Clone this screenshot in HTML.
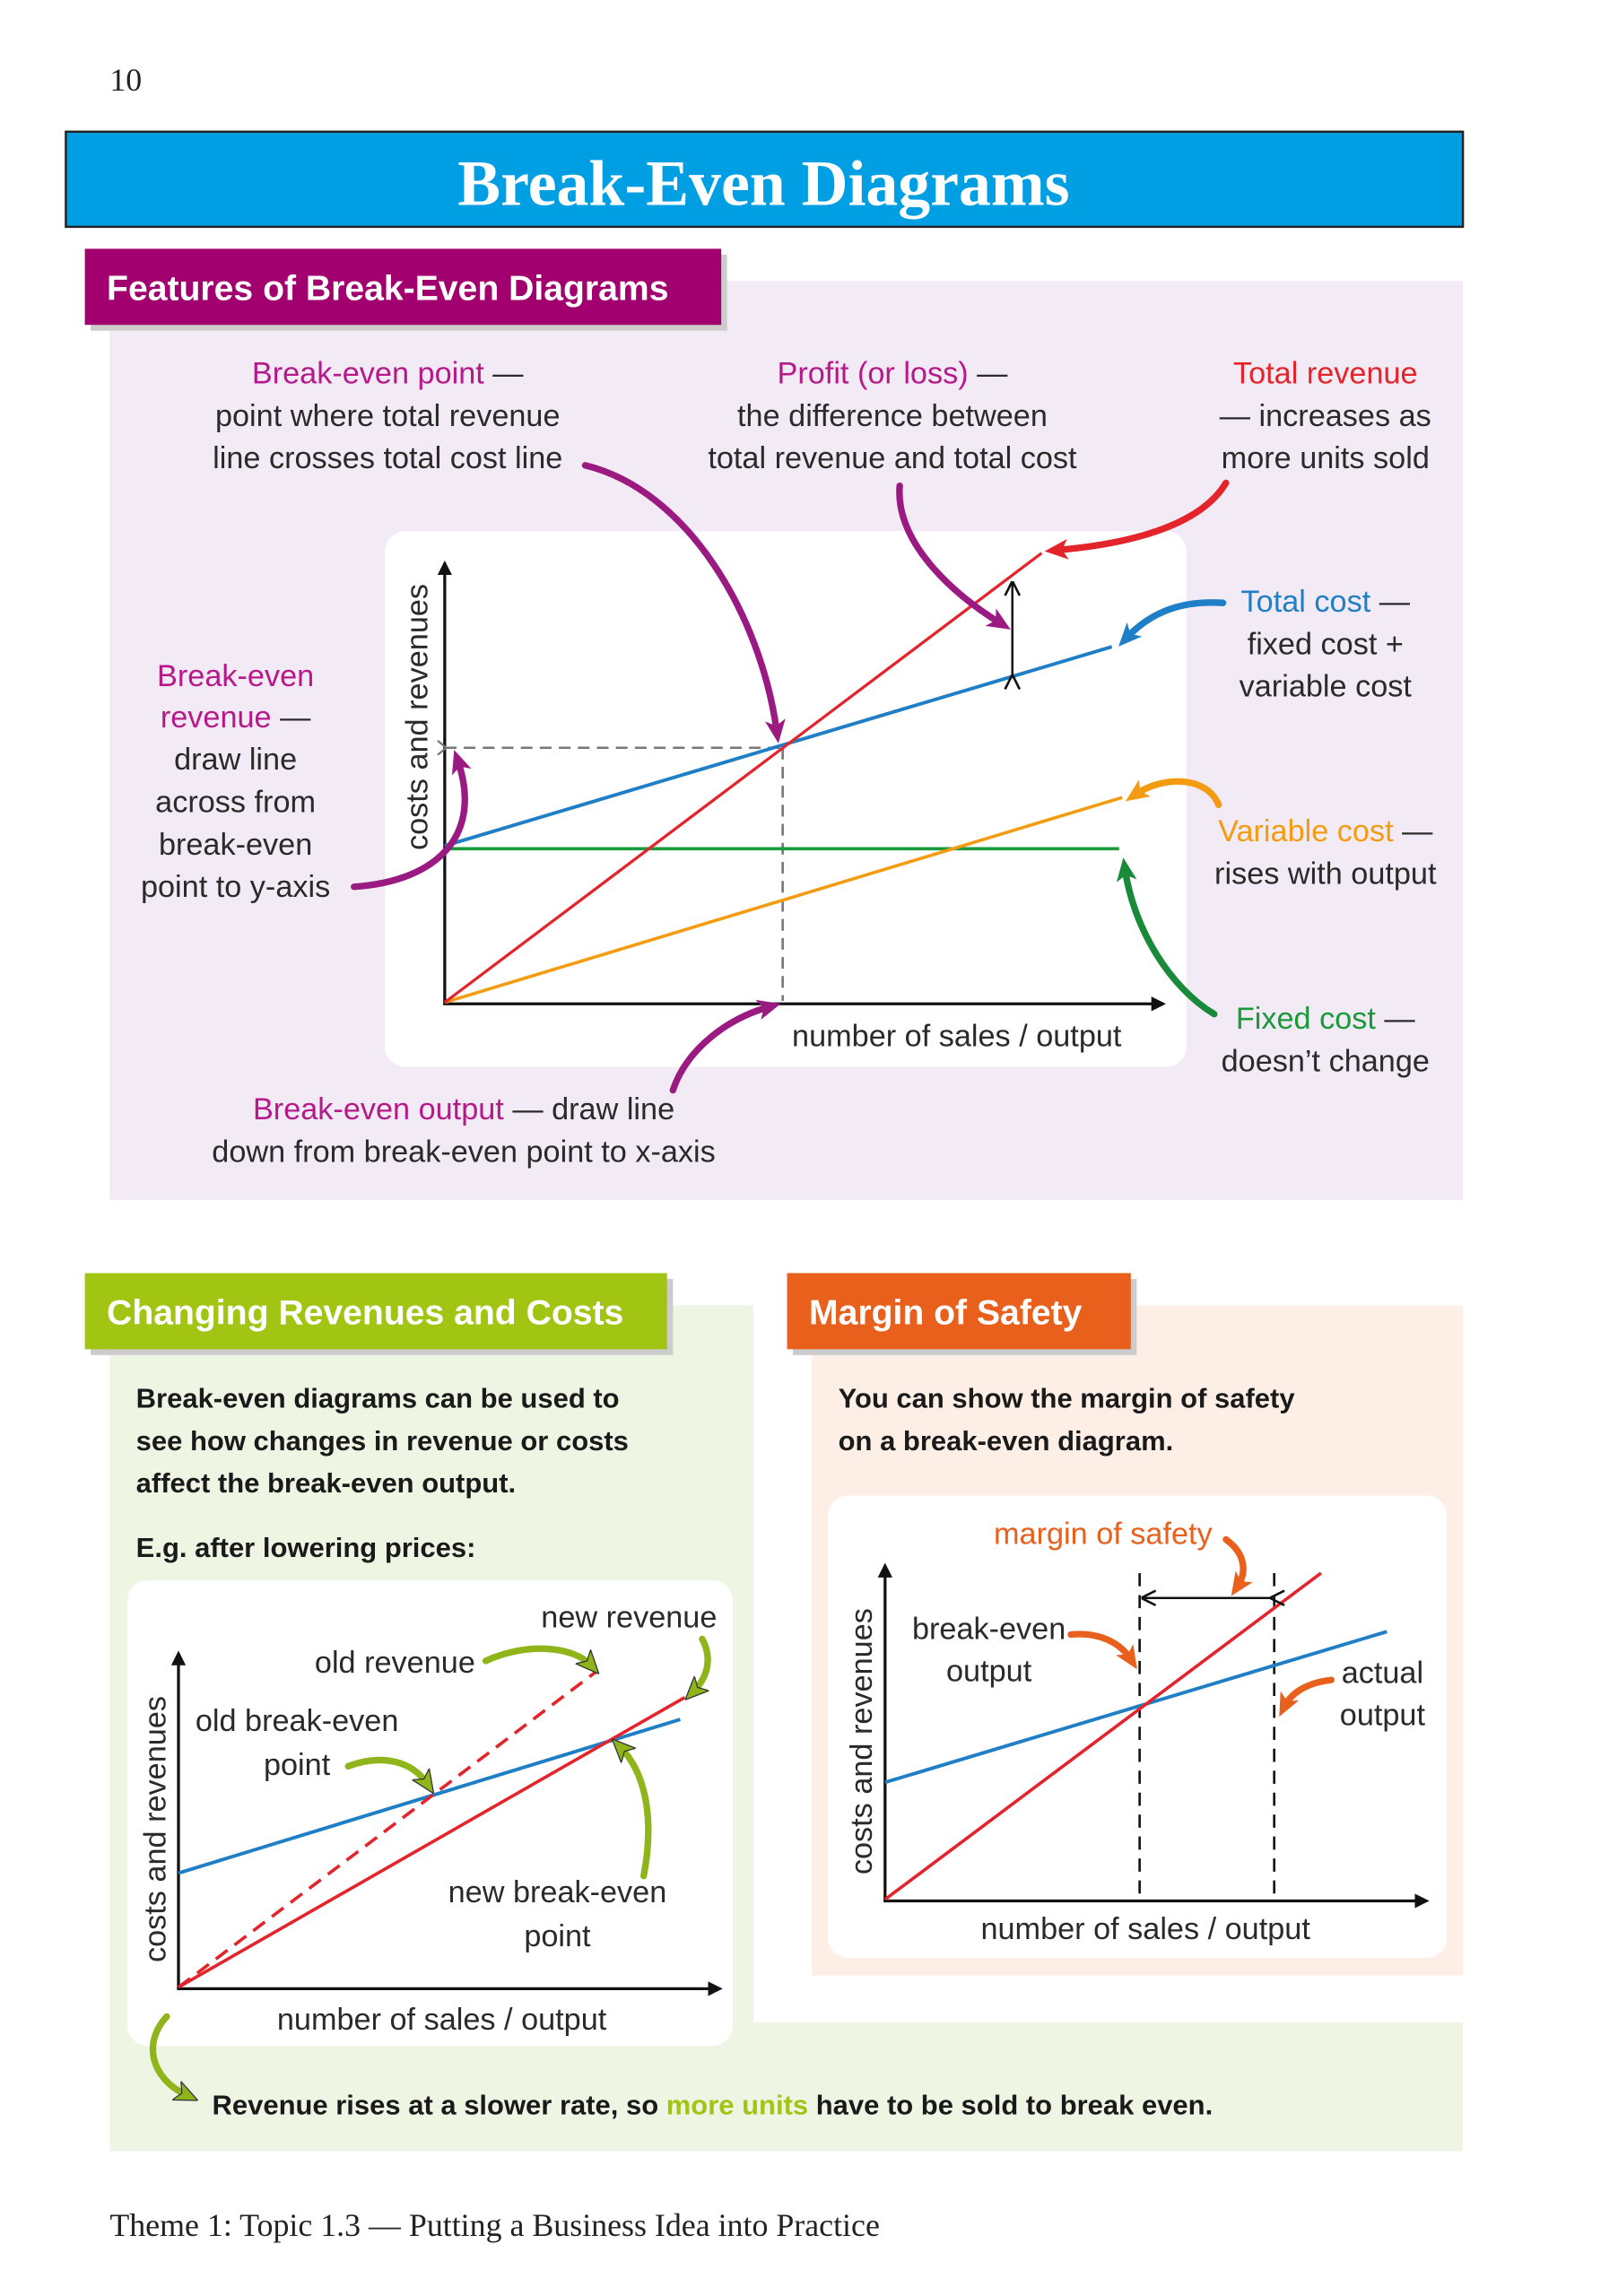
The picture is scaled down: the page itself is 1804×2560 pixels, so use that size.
<!DOCTYPE html>
<html><head><meta charset="utf-8">
<style>
html,body{margin:0;padding:0;background:#fff;}
svg{display:block;}
.h{font-family:"Liberation Sans",sans-serif;font-size:21px;fill:#2a2a2a;}
.c{text-anchor:middle;}
.b{font-family:"Liberation Sans",sans-serif;font-weight:bold;font-size:19px;fill:#1a1a1a;}
.hd{font-family:"Liberation Sans",sans-serif;font-weight:bold;font-size:24px;fill:#fff;}
</style></head><body>
<svg width="1804" height="2560" viewBox="0 0 1106 1569" preserveAspectRatio="none" xmlns="http://www.w3.org/2000/svg">
<defs>
<marker id="ak" markerWidth="10" markerHeight="10" refX="8" refY="5" orient="auto" markerUnits="userSpaceOnUse"><path d="M0,0 L10,5 L0,10 z" fill="#111"/></marker>
<marker id="ao" markerWidth="12" markerHeight="12" refX="1" refY="6" orient="auto" markerUnits="userSpaceOnUse"><path d="M0,6 L10,1 M0,6 L10,11" stroke="#111" stroke-width="1.6" fill="none"/></marker>
<marker id="ag" markerWidth="10" markerHeight="10" refX="5" refY="5" orient="auto" markerUnits="userSpaceOnUse"><path d="M0,0 L6,5 L0,10" stroke="#777" stroke-width="1.4" fill="none"/></marker>
<marker id="mM" markerWidth="16" markerHeight="16" refX="8" refY="8" orient="auto" markerUnits="userSpaceOnUse"><path d="M0,1 L16,8 L0,15 L4,8 z" fill="#9b1a82"/></marker>
<marker id="mR" markerWidth="16" markerHeight="16" refX="8" refY="8" orient="auto" markerUnits="userSpaceOnUse"><path d="M0,1 L16,8 L0,15 L4,8 z" fill="#e3242b"/></marker>
<marker id="mB" markerWidth="16" markerHeight="16" refX="8" refY="8" orient="auto" markerUnits="userSpaceOnUse"><path d="M0,1 L16,8 L0,15 L4,8 z" fill="#1f7fc6"/></marker>
<marker id="mO" markerWidth="16" markerHeight="16" refX="8" refY="8" orient="auto" markerUnits="userSpaceOnUse"><path d="M0,1 L16,8 L0,15 L4,8 z" fill="#f39c12"/></marker>
<marker id="mG" markerWidth="16" markerHeight="16" refX="8" refY="8" orient="auto" markerUnits="userSpaceOnUse"><path d="M0,1 L16,8 L0,15 L4,8 z" fill="#1a8a3a"/></marker>
<marker id="mL" markerWidth="16" markerHeight="16" refX="8" refY="8" orient="auto" markerUnits="userSpaceOnUse"><path d="M0,1 L16,8 L0,15 L4,8 z" fill="#8fb51a" stroke="#333" stroke-width="0.8"/></marker>
<marker id="mE" markerWidth="16" markerHeight="16" refX="8" refY="8" orient="auto" markerUnits="userSpaceOnUse"><path d="M0,1 L16,8 L0,15 L4,8 z" fill="#e8601c"/></marker>
</defs>

<text x="75" y="62" font-family="Liberation Serif,serif" font-size="22" fill="#222">10</text>

<rect x="45" y="90" width="955" height="65" fill="#009fe3" stroke="#222" stroke-width="1.5"/>
<text x="522" y="140" text-anchor="middle" font-family="Liberation Serif,serif" font-weight="bold" font-size="44" fill="#fff">Break-Even Diagrams</text>

<rect x="75" y="192" width="925" height="628" fill="#f2eaf4"/>
<rect x="62" y="174" width="435" height="52" fill="#ccc"/>
<rect x="58" y="170" width="435" height="52" fill="#a3006f"/>
<text x="73" y="205" class="hd">Features of Break-Even Diagrams</text>

<rect x="263" y="363" width="548" height="366" rx="14" fill="#fff"/>
<line x1="304" y1="686" x2="304" y2="385" stroke="#111" stroke-width="2" marker-end="url(#ak)"/>
<line x1="303" y1="686" x2="795" y2="686" stroke="#111" stroke-width="2" marker-end="url(#ak)"/>
<line x1="304" y1="511" x2="535" y2="511" stroke="#777" stroke-width="1.6" stroke-dasharray="8,5" marker-start="url(#ag)"/>
<line x1="535" y1="511" x2="535" y2="684" stroke="#777" stroke-width="1.6" stroke-dasharray="8,5"/>
<line x1="304" y1="580" x2="765" y2="580" stroke="#1a9a3a" stroke-width="2.2"/>
<line x1="304" y1="685" x2="767" y2="545" stroke="#f39c12" stroke-width="2.2"/>
<line x1="304" y1="578" x2="760" y2="442" stroke="#1f7fc6" stroke-width="2.4"/>
<line x1="304" y1="685" x2="712" y2="378" stroke="#e3242b" stroke-width="2"/>
<line x1="692" y1="398" x2="692" y2="462" stroke="#111" stroke-width="1.5" marker-start="url(#ao)" marker-end="url(#ao)"/>
<text transform="translate(292,490) rotate(-90)" class="h c">costs and revenues</text>
<text x="654" y="715" class="h c">number of sales / output</text>

<text x="265" y="262" class="h c"><tspan fill="#b5198a">Break-even point</tspan> —</text>
<text x="265" y="291" class="h c">point where total revenue</text>
<text x="265" y="320" class="h c">line crosses total cost line</text>
<text x="610" y="262" class="h c"><tspan fill="#b5198a">Profit (or loss)</tspan> —</text>
<text x="610" y="291" class="h c">the difference between</text>
<text x="610" y="320" class="h c">total revenue and total cost</text>
<text x="906" y="262" class="h c" style="fill:#e3242b">Total revenue</text>
<text x="906" y="291" class="h c">— increases as</text>
<text x="906" y="320" class="h c">more units sold</text>
<text x="906" y="418" class="h c"><tspan fill="#1f7fc6">Total cost</tspan> —</text>
<text x="906" y="447" class="h c">fixed cost +</text>
<text x="906" y="476" class="h c">variable cost</text>
<text x="161" y="469" class="h c" style="fill:#b5198a">Break-even</text>
<text x="161" y="497" class="h c"><tspan fill="#b5198a">revenue</tspan> —</text>
<text x="161" y="526" class="h c">draw line</text>
<text x="161" y="555" class="h c">across from</text>
<text x="161" y="584" class="h c">break-even</text>
<text x="161" y="613" class="h c">point to y-axis</text>
<text x="906" y="575" class="h c"><tspan fill="#f39c12">Variable cost</tspan> —</text>
<text x="906" y="604" class="h c">rises with output</text>
<text x="906" y="703" class="h c"><tspan fill="#1a9a3a">Fixed cost</tspan> —</text>
<text x="906" y="732" class="h c">doesn’t change</text>
<text x="317" y="765" class="h c"><tspan fill="#b5198a">Break-even output</tspan> — draw line</text>
<text x="317" y="794" class="h c">down from break-even point to x-axis</text>

<g fill="none" stroke-width="4.5" stroke-linecap="round">
<path d="M400,318 C470,335 520,420 531,500" stroke="#9b1a82" marker-end="url(#mM)"/>
<path d="M615,332 C612,370 650,405 684,426" stroke="#9b1a82" marker-end="url(#mM)"/>
<path d="M838,330 C820,360 770,372 722,376" stroke="#e3242b" marker-end="url(#mR)"/>
<path d="M836,412 C805,410 785,420 770,436" stroke="#1f7fc6" marker-end="url(#mB)"/>
<path d="M242,606 C300,602 330,570 313,520" stroke="#9b1a82" marker-end="url(#mM)"/>
<path d="M833,550 C825,530 795,530 776,543" stroke="#f39c12" marker-end="url(#mO)"/>
<path d="M830,693 C800,675 775,635 769,594" stroke="#1a8a3a" marker-end="url(#mG)"/>
<path d="M460,745 C470,715 500,695 526,688" stroke="#9b1a82" marker-end="url(#mM)"/>
</g>

<path d="M75,892 H515 V1382 H1000 V1470 H75 Z" fill="#eef5e3"/>
<rect x="62" y="874" width="398" height="52" fill="#ccc"/>
<rect x="58" y="870" width="398" height="52" fill="#a2c514"/>
<text x="73" y="905" class="hd">Changing Revenues and Costs</text>
<text x="93" y="962" class="b">Break-even diagrams can be used to</text>
<text x="93" y="991" class="b">see how changes in revenue or costs</text>
<text x="93" y="1020" class="b">affect the break-even output.</text>
<text x="93" y="1064" class="b">E.g. after lowering prices:</text>
<rect x="87" y="1080" width="414" height="318" rx="14" fill="#fff"/>
<line x1="122" y1="1359" x2="122" y2="1130" stroke="#111" stroke-width="2" marker-end="url(#ak)"/>
<line x1="121" y1="1359" x2="492" y2="1359" stroke="#111" stroke-width="2" marker-end="url(#ak)"/>
<line x1="122" y1="1280" x2="465" y2="1175" stroke="#1f7fc6" stroke-width="2.4"/>
<line x1="122" y1="1358" x2="468" y2="1160" stroke="#e3242b" stroke-width="2.2"/>
<line x1="122" y1="1358" x2="408" y2="1142" stroke="#e3242b" stroke-width="2.2" stroke-dasharray="10,6"/>
<text transform="translate(113,1250) rotate(-90)" class="h c">costs and revenues</text>
<text x="302" y="1387" class="h c">number of sales / output</text>
<text x="430" y="1112" class="h c">new revenue</text>
<text x="270" y="1143" class="h c">old revenue</text>
<text x="203" y="1183" class="h c">old break-even</text>
<text x="203" y="1213" class="h c">point</text>
<text x="381" y="1300" class="h c">new break-even</text>
<text x="381" y="1330" class="h c">point</text>
<g fill="none" stroke-width="4.5" stroke-linecap="round" stroke="#8fb51a">
<path d="M332,1135 C360,1122 392,1125 404,1138" marker-end="url(#mL)"/>
<path d="M480,1120 C488,1135 482,1148 474,1156" marker-end="url(#mL)"/>
<path d="M238,1207 C262,1198 282,1204 292,1219" marker-end="url(#mL)"/>
<path d="M440,1282 C448,1240 440,1210 424,1194" marker-end="url(#mL)"/>
<path d="M114,1378 C98,1395 102,1420 128,1432" marker-end="url(#mL)"/>
</g>
<text x="145" y="1445" class="b">Revenue rises at a slower rate, so <tspan fill="#a2c514">more units</tspan> have to be sold to break even.</text>

<rect x="555" y="892" width="445" height="458" fill="#fdeee6"/>
<rect x="542" y="874" width="235" height="52" fill="#ccc"/>
<rect x="538" y="870" width="235" height="52" fill="#e8601c"/>
<text x="553" y="905" class="hd">Margin of Safety</text>
<text x="573" y="962" class="b">You can show the margin of safety</text>
<text x="573" y="991" class="b">on a break-even diagram.</text>
<rect x="566" y="1022" width="423" height="316" rx="14" fill="#fff"/>
<line x1="605" y1="1299" x2="605" y2="1070" stroke="#111" stroke-width="2" marker-end="url(#ak)"/>
<line x1="604" y1="1299" x2="975" y2="1299" stroke="#111" stroke-width="2" marker-end="url(#ak)"/>
<line x1="779" y1="1075" x2="779" y2="1298" stroke="#111" stroke-width="1.6" stroke-dasharray="9,6"/>
<line x1="871" y1="1075" x2="871" y2="1298" stroke="#111" stroke-width="1.6" stroke-dasharray="9,6"/>
<line x1="605" y1="1218" x2="948" y2="1115" stroke="#1f7fc6" stroke-width="2.4"/>
<line x1="605" y1="1298" x2="903" y2="1075" stroke="#e3242b" stroke-width="2.2"/>
<line x1="781" y1="1092" x2="869" y2="1092" stroke="#111" stroke-width="1.5" marker-start="url(#ao)" marker-end="url(#ao)"/>
<text transform="translate(596,1190) rotate(-90)" class="h c">costs and revenues</text>
<text x="783" y="1325" class="h c">number of sales / output</text>
<text x="754" y="1055" class="h c" style="fill:#e8601c">margin of safety</text>
<text x="676" y="1120" class="h c">break-even</text>
<text x="676" y="1149" class="h c">output</text>
<text x="945" y="1150" class="h c">actual</text>
<text x="945" y="1179" class="h c">output</text>
<g fill="none" stroke-width="4.5" stroke-linecap="round" stroke="#e8601c">
<path d="M838,1052 C852,1062 852,1075 846,1084" marker-end="url(#mE)"/>
<path d="M732,1117 C752,1115 766,1123 773,1134" marker-end="url(#mE)"/>
<path d="M910,1148 C892,1150 882,1158 878,1166" marker-end="url(#mE)"/>
</g>

<text x="75" y="1528" font-family="Liberation Serif,serif" font-size="22" fill="#222">Theme 1: Topic 1.3 — Putting a Business Idea into Practice</text>
</svg>
</body></html>
